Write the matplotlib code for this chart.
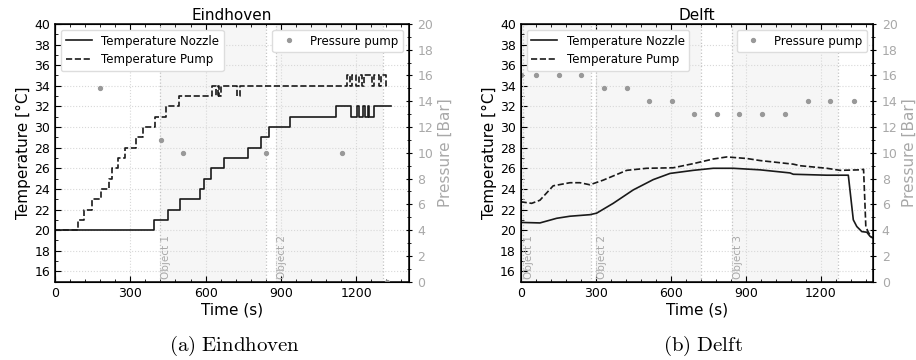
"""
Temperature / pressure logs for the Eindhoven and Delft runs.
"""

import matplotlib
matplotlib.use('Agg')
import matplotlib.pyplot as plt
from matplotlib.ticker import MultipleLocator

plt.rcParams['mathtext.fontset'] = 'cm'

# --- Eindhoven (step-wise sensor readings) ---
ehv_nozzle_t = [0, 2, 396, 450, 499, 579, 595, 621, 672, 767, 822, 853, 935,
                1118, 1181, 1202, 1212, 1225, 1233, 1245, 1252, 1270, 1340]
ehv_nozzle_T = [19, 20, 21, 22, 23, 24, 25, 26, 27, 28, 29, 30, 31,
                32, 31, 32, 31, 32, 31, 32, 31, 32, 32]

ehv_pump_t = [0, 2, 90, 117, 149, 182, 215, 227, 253, 278, 322, 350, 399, 443,
              496, 625, 640, 650, 655, 660, 725, 738, 1164, 1175, 1185, 1200,
              1210, 1222, 1232, 1262, 1272, 1290, 1300, 1318, 1330]
ehv_pump_T = [19, 20, 21, 22, 23, 24, 25, 26, 27, 28, 29, 30, 31, 32,
              33, 34, 33, 34, 33, 34, 33, 34, 35, 34, 35, 34,
              35, 34, 35, 34, 35, 34, 35, 34, 34]

ehv_press_t = [180, 423, 511, 840, 1144, 1323]
ehv_press_p = [15, 11, 10, 10, 10, 0]

ehv_objects = [(420, 840), (880, 1305)]

# --- Delft (continuous readings) ---
dlf_nozzle_t = [0, 77, 144, 197, 277, 304, 370, 450, 530, 597, 690, 770, 850,
                957, 1077, 1090, 1224, 1310, 1330, 1344, 1364, 1384, 1397, 1408]
dlf_nozzle_T = [20.75, 20.7, 21.15, 21.35, 21.5, 21.65, 22.6, 23.9, 24.9, 25.5,
                25.8, 26.0, 26.0, 25.85, 25.55, 25.42, 25.33, 25.33, 21.0,
                20.35, 19.86, 19.8, 19.4, 19.25]

dlf_pump_t = [0, 44, 77, 130, 197, 237, 277, 330, 424, 504, 610, 690, 770, 824,
              904, 957, 1090, 1117, 1224, 1277, 1357, 1371, 1376, 1380, 1390, 1404]
dlf_pump_T = [22.75, 22.6, 22.9, 24.3, 24.6, 24.6, 24.4, 24.85, 25.8, 26.0,
              26.05, 26.45, 26.9, 27.1, 26.95, 26.75, 26.4, 26.25, 26.0, 25.8,
              25.85, 25.9, 22.9, 20.35, 19.8, 19.25]

dlf_press_t = [0, 62, 153, 241, 333, 424, 515, 604, 694, 785, 874, 965, 1057,
               1148, 1236, 1333]
dlf_press_p = [16, 16, 16, 16, 15, 15, 14, 14, 13, 13, 13, 13, 13, 14, 14, 14]

dlf_objects = [(8, 280), (300, 720), (846, 1268)]

GRAY = '#a8a8a8'
LINE = '#1a1a1a'


def draw_panel(ax, title, nozzle, pump, press, objects, steps):
    ds = 'steps-post' if steps else 'default'
    for i, (x0, x1) in enumerate(objects):
        ax.axvspan(x0, x1, color='#f6f6f6', zorder=0, lw=0)
        ax.axvline(x0, color='#c4c4c4', ls=':', lw=0.9, zorder=1)
        ax.axvline(x1, color='#c4c4c4', ls=':', lw=0.9, zorder=1)
        ax.text(x0 + 4, 15.25, f'Object {i + 1}', rotation=90, ha='left',
                va='bottom', color=GRAY, fontsize=7.5)

    ax.plot(*nozzle, color=LINE, lw=1.2, drawstyle=ds, label='Temperature Nozzle')
    ax.plot(*pump, color=LINE, lw=1.2, ls='--', drawstyle=ds, label='Temperature Pump')

    ax.set_xlim(0, 1410)
    ax.set_ylim(15, 40)
    ax.xaxis.set_major_locator(MultipleLocator(300))
    ax.xaxis.set_minor_locator(MultipleLocator(60))
    ax.yaxis.set_major_locator(MultipleLocator(2))
    ax.yaxis.set_minor_locator(MultipleLocator(1))
    ax.tick_params(which='both', direction='in', top=True, labelsize=9)
    ax.tick_params(which='major', length=4)
    ax.tick_params(which='minor', length=2)
    ax.grid(True, which='major', color='#d8d8d8', ls=':', lw=0.8)
    ax.set_axisbelow(True)
    ax.set_xlabel('Time (s)', fontsize=11, labelpad=2)
    ax.set_ylabel('Temperature [°C]', fontsize=11, labelpad=2)
    ax.set_title(title, fontsize=11, pad=3)
    for sp in ax.spines.values():
        sp.set_linewidth(1.1)
    ax.legend(loc='upper left', fontsize=8.5, edgecolor='#dddddd',
              framealpha=1, handlelength=2.2, borderpad=0.4)

    ax2 = ax.twinx()
    ax2.plot(*press, 'o', color='#999999', ms=2.8, label='Pressure pump')
    ax2.set_ylim(0, 20)
    ax2.yaxis.set_major_locator(MultipleLocator(2))
    ax2.yaxis.set_minor_locator(MultipleLocator(1))
    ax2.tick_params(which='both', direction='inout', colors='black',
                    labelcolor=GRAY, labelsize=9)
    ax2.tick_params(which='major', length=5)
    ax2.tick_params(which='minor', length=3)
    ax2.set_ylabel('Pressure [Bar]', color=GRAY, fontsize=11, labelpad=3)
    ax2.legend(loc='upper right', fontsize=8.5, edgecolor='#dddddd',
               framealpha=1, handletextpad=0.8, borderpad=0.4)
    return ax2


fig = plt.figure(figsize=(9.16, 3.6), dpi=100)
ax_l = fig.add_axes([0.060, 0.2175, 0.3865, 0.716])
ax_r = fig.add_axes([0.5684, 0.2175, 0.385, 0.716])

draw_panel(ax_l, 'Eindhoven', (ehv_nozzle_t, ehv_nozzle_T),
           (ehv_pump_t, ehv_pump_T), (ehv_press_t, ehv_press_p),
           ehv_objects, steps=True)
draw_panel(ax_r, 'Delft', (dlf_nozzle_t, dlf_nozzle_T),
           (dlf_pump_t, dlf_pump_T), (dlf_press_t, dlf_press_p),
           dlf_objects, steps=False)

fig.text(0.256, 0.038, r'$\mathrm{(a)\ Eindhoven}$', ha='center', va='center', fontsize=15)
fig.text(0.767, 0.038, r'$\mathrm{(b)\ Delft}$', ha='center', va='center', fontsize=15)

fig.savefig('out.png', dpi=100)
